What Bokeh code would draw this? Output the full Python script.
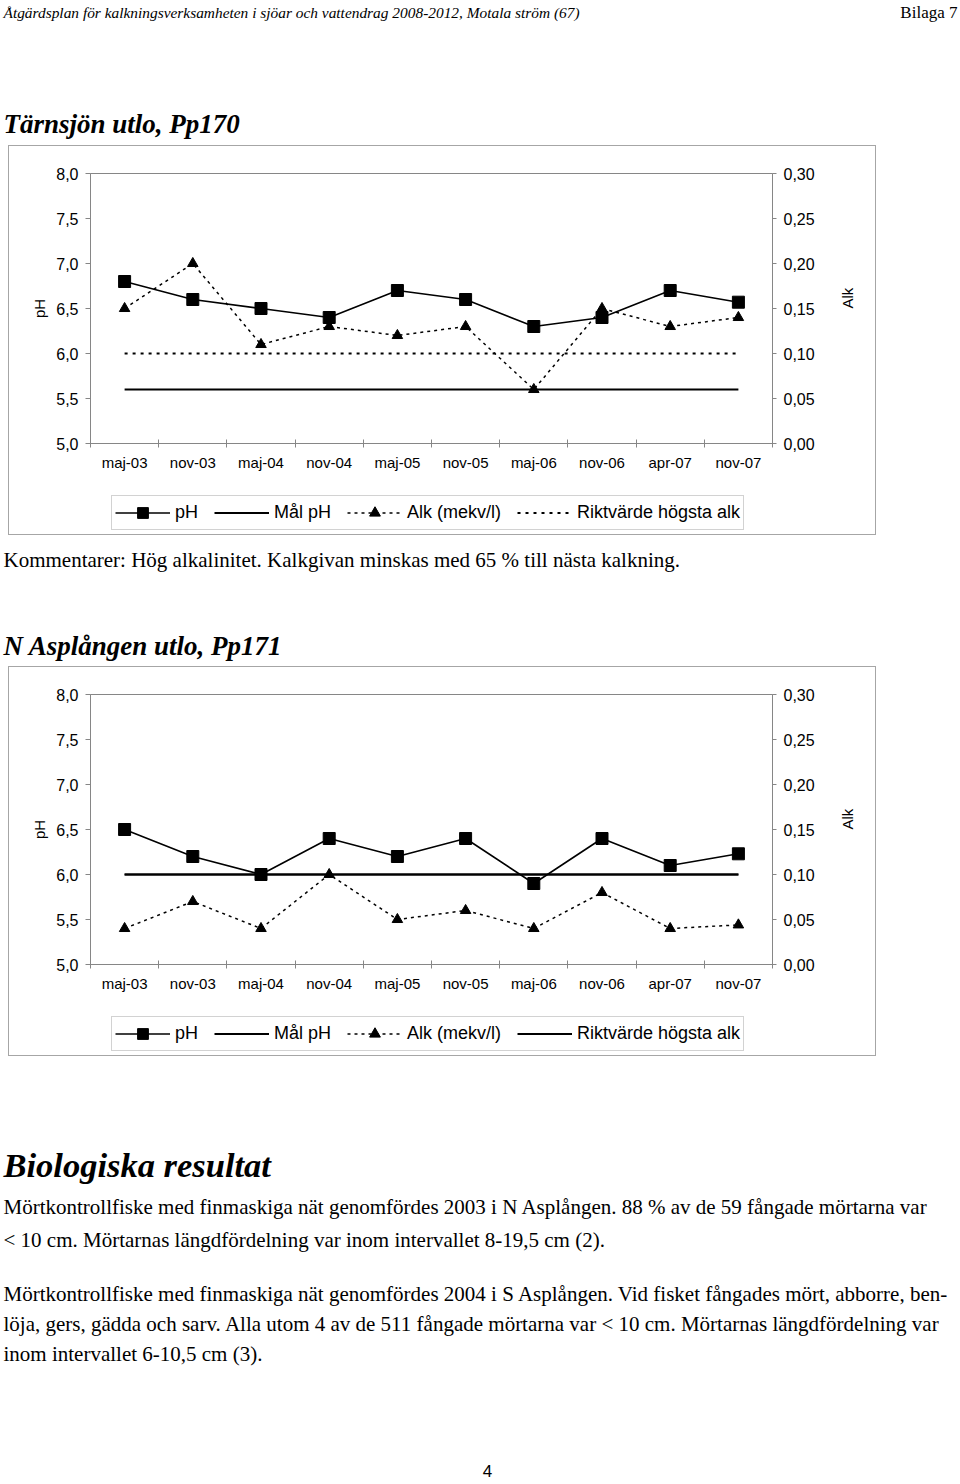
import math
from bokeh.plotting import figure
from bokeh.models import (Range1d, LinearAxis, FixedTicker, ColumnDataSource,
                          Legend, LegendItem)
from bokeh.core.properties import value
from bokeh.embed import file_html
from bokeh.resources import INLINE

# ---------------- data ----------------
months = ["maj-03", "nov-03", "maj-04", "nov-04", "maj-05",
          "nov-05", "maj-06", "nov-06", "apr-07", "nov-07"]

tarn_ph = [6.8, 6.6, 6.5, 6.4, 6.7, 6.6, 6.3, 6.4, 6.7, 6.57]
tarn_alk = [0.15, 0.20, 0.11, 0.13, 0.12, 0.13, 0.06, 0.15, 0.13, 0.14]
tarn_mal_ph = [5.6, 5.6, 5.6, 5.6, 5.6, 5.6, 5.6, 5.6, 5.6, 5.6]
tarn_rikt_alk = [0.10, 0.10, 0.10, 0.10, 0.10, 0.10, 0.10, 0.10, 0.10, 0.10]

asp_ph = [6.5, 6.2, 6.0, 6.4, 6.2, 6.4, 5.9, 6.4, 6.1, 6.23]
asp_alk = [0.04, 0.07, 0.04, 0.10, 0.05, 0.06, 0.04, 0.08, 0.04, 0.044]
asp_mal_ph = [6.0, 6.0, 6.0, 6.0, 6.0, 6.0, 6.0, 6.0, 6.0, 6.0]
asp_rikt_alk = [0.10, 0.10, 0.10, 0.10, 0.10, 0.10, 0.10, 0.10, 0.10, 0.10]

ph_ticks = [5.0, 5.5, 6.0, 6.5, 7.0, 7.5, 8.0]
ph_tick_labels = ["5,0", "5,5", "6,0", "6,5", "7,0", "7,5", "8,0"]
alk_ticks = [0.0, 0.05, 0.10, 0.15, 0.20, 0.25, 0.30]
alk_tick_labels = ["0,00", "0,05", "0,10", "0,15", "0,20", "0,25", "0,30"]

legend_labels = ["pH", "Mål pH", "Alk (mekv/l)", "Riktvärde högsta alk"]
axis_title_left = "pH"
axis_title_right = "Alk"

header_left = "Åtgärdsplan för kalkningsverksamheten i sjöar och vattendrag 2008-2012, Motala ström (67)"
header_right = "Bilaga 7"
title1 = "Tärnsjön  utlo, Pp170"
comment1 = "Kommentarer: Hög alkalinitet. Kalkgivan minskas med 65 % till nästa kalkning."
title2 = "N Asplången  utlo, Pp171"
bio_title = "Biologiska resultat"
bio_lines = [
    "Mörtkontrollfiske med finmaskiga nät genomfördes 2003 i N Asplången. 88 % av de 59 fångade mörtarna var",
    "< 10 cm. Mörtarnas längdfördelning var inom intervallet 8-19,5 cm (2).",
    "Mörtkontrollfiske med finmaskiga nät genomfördes 2004 i S Asplången. Vid fisket fångades mört, abborre, ben-",
    "löja, gers, gädda och sarv. Alla utom 4 av de 511 fångade mörtarna var < 10 cm. Mörtarnas längdfördelning var",
    "inom intervallet 6-10,5 cm (3).",
]
page_number = "4"

# ---------------- styles ----------------
SANS = "Liberation Sans"
SERIF = "Liberation Serif"
GRAY = "#868686"
BOX_GRAY = "#a6a6a6"
BOX_LINE = "1px solid " + BOX_GRAY
W = 960


def style_axis(ax, tick_out):
    ax.axis_line_color = GRAY
    ax.major_tick_line_color = GRAY
    ax.minor_tick_line_color = None
    ax.major_tick_out = tick_out
    ax.major_tick_in = 0
    ax.major_label_text_font = SANS
    ax.major_label_text_font_size = "16px"
    ax.major_label_text_color = "black"
    ax.axis_label_text_font = SANS
    ax.axis_label_text_font_size = "15px"
    ax.axis_label_text_font_style = "normal"
    ax.axis_label_text_color = "black"


def line_styles(rikt_dash):
    return dict(
        ph=dict(line_color="black", line_width=1.6),
        ph_marker=dict(marker="square", size=12, fill_color="black", line_color="black"),
        mal=dict(line_color="black", line_width=2),
        alk=dict(line_color="black", line_width=1.5, line_dash="3 4"),
        alk_marker=dict(marker="triangle", size=10.5, fill_color="black", line_color="black"),
        rikt=dict(line_color="black", line_width=2, line_dash=rikt_dash),
    )


def series_source(ph, alk, mal, rikt):
    centers = [i + 0.5 for i in range(len(months))]
    return ColumnDataSource(dict(x=centers, ph=ph, alk=alk, mal=mal, rikt=rikt))


def make_chart(src, rikt_dash):
    st = line_styles(rikt_dash)
    p = figure(width=868, height=329, x_range=Range1d(0, 10), y_range=Range1d(5, 8),
               output_backend="svg", toolbar_location=None,
               min_border_left=81, min_border_right=105,
               min_border_top=27, min_border_bottom=32,
               styles={"border-top": BOX_LINE, "border-left": BOX_LINE,
                       "border-right": BOX_LINE, "margin-left": "8px"})
    p.extra_y_ranges = {"alk": Range1d(0, 0.30)}
    p.xgrid.visible = False
    p.ygrid.visible = False
    p.outline_line_color = GRAY
    p.background_fill_color = "white"
    p.border_fill_color = "white"

    centers = [i + 0.5 for i in range(len(months))]
    bounds = list(range(len(months) + 1))

    xa = p.xaxis[0]
    xa.ticker = FixedTicker(ticks=centers, minor_ticks=bounds)
    xa.major_label_overrides = {c: m for c, m in zip(centers, months)}
    style_axis(xa, 0)
    xa.minor_tick_line_color = GRAY
    xa.minor_tick_in = 4
    xa.minor_tick_out = 4
    xa.major_label_standoff = 6
    xa.major_label_text_font_size = "15px"

    ya = p.yaxis[0]
    ya.ticker = FixedTicker(ticks=ph_ticks)
    ya.major_label_overrides = {t: s for t, s in zip(ph_ticks, ph_tick_labels)}
    ya.axis_label = axis_title_left
    style_axis(ya, 5)
    ya.major_label_standoff = 7
    ya.axis_label_standoff = 5

    ra = LinearAxis(y_range_name="alk", ticker=FixedTicker(ticks=alk_ticks),
                    axis_label=axis_title_right)
    ra.major_label_overrides = {t: s for t, s in zip(alk_ticks, alk_tick_labels)}
    style_axis(ra, 4)
    ra.major_label_standoff = 7
    ra.axis_label_standoff = 30
    try:
        ra.axis_label_orientation = math.pi / 2
    except Exception:
        pass
    p.add_layout(ra, "right")

    p.line("x", "ph", source=src, **st["ph"])
    p.scatter("x", "ph", source=src, **st["ph_marker"])
    p.line("x", "mal", source=src, **st["mal"])
    p.line("x", "alk", source=src, y_range_name="alk", **st["alk"])
    p.scatter("x", "alk", source=src, y_range_name="alk", **st["alk_marker"])
    p.line("x", "rikt", source=src, y_range_name="alk", **st["rikt"])
    return p


def make_legend_fig(src, rikt_dash):
    """Lower part of the chart box, holding the series key.
    The series renderers here lie outside this panel's view; only their
    legend samples are shown."""
    st = line_styles(rikt_dash)
    p = figure(width=868, height=61, x_range=Range1d(100, 101), y_range=Range1d(100, 101),
               output_backend="svg", toolbar_location=None,
               x_axis_type=None, y_axis_type=None,
               min_border_left=81, min_border_right=105,
               min_border_top=0, min_border_bottom=0,
               styles={"border-bottom": BOX_LINE, "border-left": BOX_LINE,
                       "border-right": BOX_LINE, "margin-left": "8px"})
    p.grid.visible = False
    p.outline_line_color = None
    r_ph = p.line("x", "ph", source=src, **st["ph"])
    r_phm = p.scatter("x", "ph", source=src, **st["ph_marker"])
    r_mal = p.line("x", "mal", source=src, **st["mal"])
    r_alk = p.line("x", "alk", source=src, **st["alk"])
    r_alkm = p.scatter("x", "alk", source=src, **st["alk_marker"])
    r_rikt = p.line("x", "rikt", source=src, **st["rikt"])
    legend = Legend(items=[
        LegendItem(label=value(legend_labels[0]), renderers=[r_ph, r_phm]),
        LegendItem(label=value(legend_labels[1]), renderers=[r_mal]),
        LegendItem(label=value(legend_labels[2]), renderers=[r_alk, r_alkm]),
        LegendItem(label=value(legend_labels[3]), renderers=[r_rikt]),
    ], orientation="horizontal", location="top_left",
        glyph_width=55, glyph_height=27, label_height=20, label_standoff=5,
        spacing=16, padding=3, margin=21,
        border_line_color=BOX_GRAY, border_line_width=1,
        background_fill_color="white", background_fill_alpha=1.0,
        label_text_font=SANS, label_text_font_size="18px", label_text_color="black")
    p.add_layout(legend)
    return p


def text_fig(h):
    p = figure(width=W, height=h, x_range=Range1d(0, W), y_range=Range1d(h, 0),
               output_backend="svg", toolbar_location=None,
               x_axis_type=None, y_axis_type=None, min_border=0)
    p.grid.visible = False
    p.outline_line_color = None
    return p


def put(p, x, y, txt, size, font=SERIF, style="normal", align="left"):
    p.text(x=[x], y=[y], text=[txt], text_font=value(font), text_font_size=size,
           text_font_style=style, text_align=align, text_baseline="middle",
           text_color="black")


# header + first title (page y 0..145)
figA = text_fig(145)
put(figA, 3, 12, header_left, "15.4px", style="italic")
put(figA, 957, 12, header_right, "17px", align="right")
put(figA, 3, 123, title1, "27px", style="bold italic")

src1 = series_source(tarn_ph, tarn_alk, tarn_mal_ph, tarn_rikt_alk)
chart1 = make_chart(src1, "3 5")
leg1 = make_legend_fig(src1, "3 5")

# comment + second title (page y 537..668)
figC = text_fig(131)
put(figC, 3, 24, comment1, "21px")
put(figC, 3, 110, title2, "27px", style="bold italic")

src2 = series_source(asp_ph, asp_alk, asp_mal_ph, asp_rikt_alk)
chart2 = make_chart(src2, "solid")
leg2 = make_legend_fig(src2, "solid")

# biology text (page y 1060..1484)
figE = text_fig(424)
put(figE, 3, 108, bio_title, "34.5px", style="bold italic")
for yy, line in zip([150, 183, 237, 267, 297], bio_lines):
    put(figE, 3, yy, line, "21px")
put(figE, 487, 414, page_number, "17px", font=SANS, align="center")

roots = [figA, chart1, leg1, figC, chart2, leg2, figE]
open("out.html", "w").write(file_html(roots, INLINE))
